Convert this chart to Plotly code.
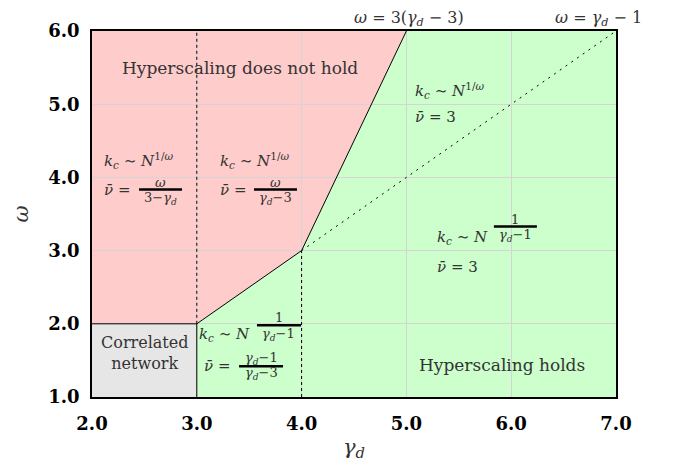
import plotly.graph_objects as go

# ---- data ----
x_ticks = [2, 3, 4, 5, 6, 7]
y_ticks = [1, 2, 3, 4, 5, 6]
x_tick_labels = ["2.0", "3.0", "4.0", "5.0", "6.0", "7.0"]
y_tick_labels = ["1.0", "2.0", "3.0", "4.0", "5.0", "6.0"]

# region polygons (gamma_d, omega)
red_x = [2, 3, 4, 5, 2]
red_y = [2, 2, 3, 6, 6]
green_x = [3, 7, 7, 5, 4, 3]
green_y = [1, 1, 6, 6, 3, 2]
gray_x = [2, 3, 3, 2]
gray_y = [1, 1, 2, 2]

# boundary lines
boundary_x = [2, 3, 4, 5]
boundary_y = [2, 2, 3, 6]
corr_x = [3, 3]
corr_y = [1, 2]
dash3_x = [3, 3]
dash3_y = [2, 6]
dash4_x = [4, 4]
dash4_y = [1, 3]
dot_x = [4, 7]
dot_y = [3, 6]

SERIF = "DejaVu Serif"
PXX = 104.8   # px per x unit (approx)

fig = go.Figure()


def poly_path(xs, ys):
    return "M " + " L ".join(f"{x},{y}" for x, y in zip(xs, ys)) + " Z"


for xs, ys, col in [(red_x, red_y, "#ffcccc"), (green_x, green_y, "#ccffcc"),
                    (gray_x, gray_y, "#e6e6e6")]:
    fig.add_shape(type="path", path=poly_path(xs, ys), xref="x", yref="y",
                  fillcolor=col, line=dict(width=0), layer="below")

fig.add_trace(go.Scatter(x=boundary_x, y=boundary_y, mode="lines",
                         line=dict(color="black", width=1), hoverinfo="skip"))
fig.add_trace(go.Scatter(x=corr_x, y=corr_y, mode="lines",
                         line=dict(color="black", width=1), hoverinfo="skip"))
fig.add_trace(go.Scatter(x=dash3_x, y=dash3_y, mode="lines",
                         line=dict(color="black", width=1, dash="3px,3px"), hoverinfo="skip"))
fig.add_trace(go.Scatter(x=dash4_x, y=dash4_y, mode="lines",
                         line=dict(color="black", width=1, dash="3px,3px"), hoverinfo="skip"))
fig.add_trace(go.Scatter(x=dot_x, y=dot_y, mode="lines",
                         line=dict(color="black", width=1, dash="2px,5px"), hoverinfo="skip"))

FS = 15
FF = 13
TC = "#333333"


def text(x, y, s, size=FS, xanchor="left", **kw):
    fig.add_annotation(x=x, y=y, xref="x", yref="y", text=s, showarrow=False,
                       xanchor=xanchor, yanchor="middle",
                       font=dict(family=SERIF, size=size, color=TC), **kw)


def frac(xc, ybar, ynum, yden, num, den, width_px, size=FF):
    text(xc, ynum, num, size=size, xanchor="center")
    text(xc, yden, den, size=size, xanchor="center")
    half = width_px / 2 / PXX
    fig.add_shape(type="line", xref="x", yref="y", x0=xc - half, x1=xc + half,
                  y0=ybar, y1=ybar, line=dict(color="black", width=2.5))


SP = "\u00a0"
KC = "<i>k</i><sub><i>c</i></sub>"
KC_W = KC + SP + "∼" + SP + "<i>N</i><sup>1/<i>ω</i></sup>"
KC_N = KC + SP + "∼" + SP + "<i>N</i>"
NU = "<i>ν̄</i>" + SP + "="
GD = "<i>γ</i><sub><i>d</i></sub>"

text(3.41, 5.49, "Hyperscaling does not hold", size=17, xanchor="center")
text(5.91, 1.44, "Hyperscaling holds", size=17, xanchor="center")
text(2.50, 1.60, "Correlated<br>network", size=16, xanchor="center")

# left region
text(2.10, 4.23, KC_W)
text(2.10, 3.83, NU)
frac(2.654, 3.836, 3.935, 3.715, "<i>ω</i>", "3−" + GD, 43)
# middle-upper region
text(3.20, 4.23, KC_W)
text(3.20, 3.83, NU)
frac(3.751, 3.836, 3.935, 3.715, "<i>ω</i>", GD + "−3", 43)
# right-upper
text(5.06, 5.19, KC_W)
text(5.06, 4.82, NU + SP + "3")
# right-middle
text(5.27, 3.18, KC_N)
frac(6.04, 3.33, 3.43, 3.20, "1", GD + "−1", 43)
text(5.27, 2.77, NU + SP + "3")
# bottom-middle
text(3.00, 1.86, KC_N)
frac(3.784, 1.98, 2.08, 1.85, "1", GD + "−1", 44)
text(3.05, 1.43, NU)
frac(3.613, 1.42, 1.525, 1.315, GD + "−1", GD + "−3", 44)

# top labels
fig.add_annotation(x=5.02, y=1.035, xref="x", yref="paper", showarrow=False,
                   text="<i>ω</i>" + SP + "=" + SP + "3(" + GD + SP + "−" + SP + "3)",
                   yanchor="middle", font=dict(family=SERIF, size=16, color=TC))
fig.add_annotation(x=6.83, y=1.035, xref="x", yref="paper", showarrow=False,
                   text="<i>ω</i>" + SP + "=" + SP + GD + SP + "−" + SP + "1",
                   yanchor="middle", font=dict(family=SERIF, size=16, color=TC))

axis_common = dict(showline=True, linecolor="black", linewidth=1.5, mirror=True,
                   showgrid=True, gridcolor="#d4d4d4", gridwidth=1, zeroline=False,
                   ticks="outside", tickcolor="rgba(0,0,0,0)",
                   tickfont=dict(family=SERIF, size=18, color="black", weight="bold"))

fig.update_xaxes(range=[2, 7], tickvals=x_ticks, ticktext=x_tick_labels, ticklen=10,
                 title=dict(text="<i>γ</i><sub><i>d</i></sub>",
                            font=dict(family=SERIF, size=21, color="#333"),
                            standoff=6), **axis_common)
fig.update_yaxes(range=[1, 6], tickvals=y_ticks, ticktext=y_tick_labels, ticklen=7,
                 title=dict(text="<i>ω</i>", font=dict(family=SERIF, size=21, color="#333"),
                            standoff=14), **axis_common)

fig.update_layout(width=673, height=468, showlegend=False,
                  margin=dict(l=84, r=65, t=17, b=79),
                  plot_bgcolor="white", paper_bgcolor="white")

fig.write_html("out.html")
